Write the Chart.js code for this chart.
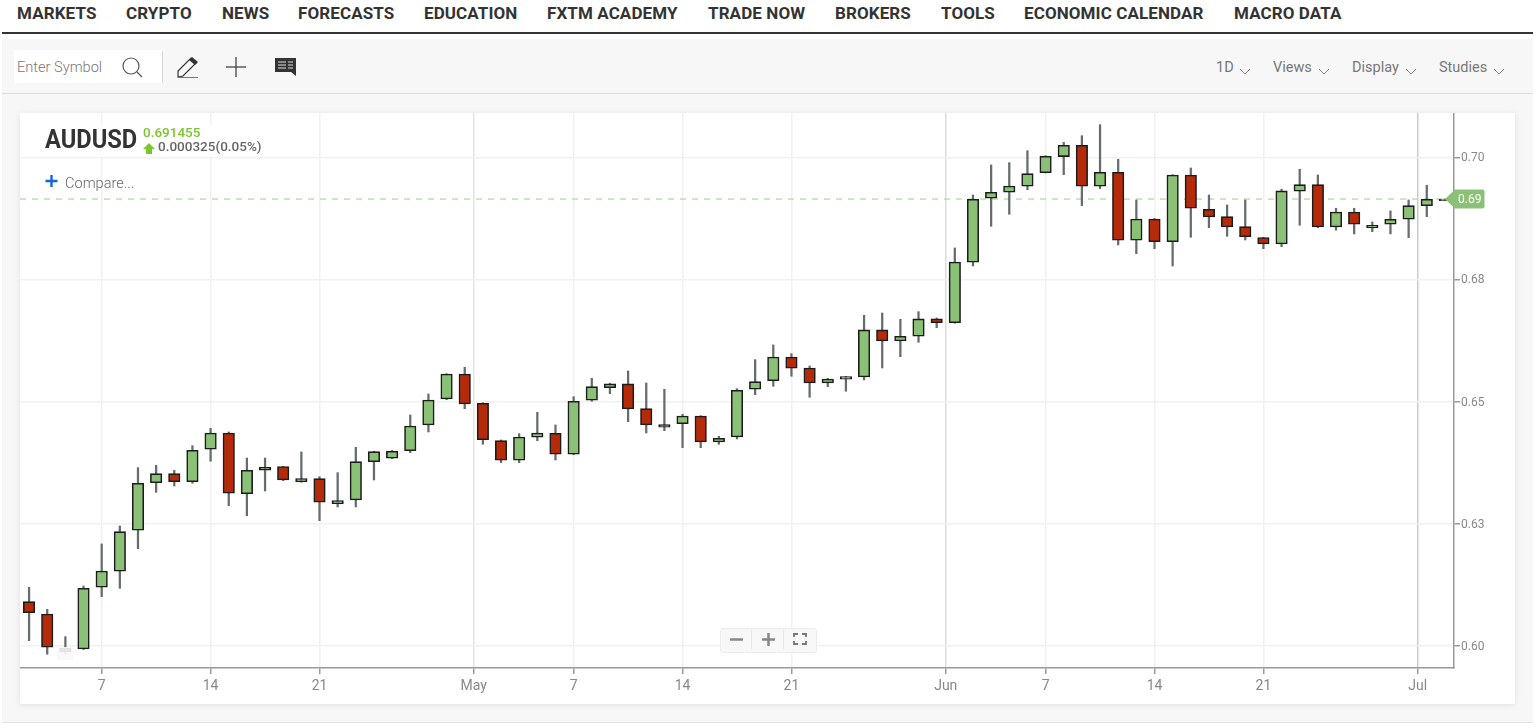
<!DOCTYPE html>
<html>
<head>
<meta charset="utf-8">
<title>AUDUSD</title>
<script src="https://cdn.jsdelivr.net/npm/chart.js@4"></script>
<style>
html,body{margin:0;padding:0;width:1537px;height:728px;overflow:hidden;background:#fff;font-family:Roboto,sans-serif;}
.abs{position:absolute;white-space:nowrap;}
.nav{top:4px;font-size:17px;font-weight:700;color:#333;line-height:19px;letter-spacing:.1px;}
.menu{top:59px;font-size:14.5px;color:#777;line-height:17px;}
svg{position:absolute;overflow:visible;}
</style>
</head>
<body>

<!-- top navigation -->
<div class="abs nav" style="left:17px">MARKETS</div>
<div class="abs nav" style="left:126px">CRYPTO</div>
<div class="abs nav" style="left:222px">NEWS</div>
<div class="abs nav" style="left:298px">FORECASTS</div>
<div class="abs nav" style="left:424px">EDUCATION</div>
<div class="abs nav" style="left:547px">FXTM ACADEMY</div>
<div class="abs nav" style="left:708px">TRADE NOW</div>
<div class="abs nav" style="left:835px">BROKERS</div>
<div class="abs nav" style="left:941px">TOOLS</div>
<div class="abs nav" style="left:1024px">ECONOMIC CALENDAR</div>
<div class="abs nav" style="left:1234px">MACRO DATA</div>
<div class="abs" style="left:2px;top:32px;width:1531px;height:2px;background:#333"></div>

<!-- grey panel and toolbar -->
<div class="abs" style="left:2px;top:39px;width:1531px;height:683px;background:#f7f7f7;border-bottom:1px solid #e2e2e2"></div>
<div class="abs" style="left:2px;top:93px;width:1531px;height:1px;background:#dcdcdc"></div>
<div class="abs" style="left:14px;top:50px;width:148px;height:33px;background:#fff"></div>
<div class="abs" style="left:162px;top:51px;width:1px;height:32px;background:#d8d8d8"></div>
<div class="abs" style="left:17px;top:59px;font-size:14.6px;font-weight:300;color:#777;line-height:17px">Enter Symbol</div>

<svg style="left:0;top:0" width="1537" height="100">
  <!-- search -->
  <circle cx="131" cy="66" r="8" fill="none" stroke="#555" stroke-width="1.2"/>
  <line x1="137" y1="72" x2="142" y2="77" stroke="#555" stroke-width="1.2"/>
  <!-- pencil -->
  <path d="M178 77 L178 71 L191 58 L196 63 L183 76 Z" fill="none" stroke="#333" stroke-width="1.2"/>
  <path d="M189 60 L192 57 L198 62 L195 65 Z" fill="#333"/>
  <line x1="178" y1="77.5" x2="198" y2="77.5" stroke="#777" stroke-width="1"/>
  <!-- crosshair -->
  <line x1="226" y1="67" x2="246" y2="67" stroke="#444" stroke-width="1.3"/>
  <line x1="236" y1="57" x2="236" y2="77" stroke="#444" stroke-width="1.3"/>
  <!-- comment -->
  <path d="M275 58 H296 V76 L291 72 H275 Z" fill="#333"/>
  <path d="M278 62 H286 M288 62 H293 M278 65 H286 M288 65 H293 M278 68 H286 M288 68 H293" stroke="#ddd" stroke-width="1"/>
  <!-- menu chevrons -->
  <path d="M1240 69 L1245 74 L1250 69 M1319 69 L1324 74 L1329 69 M1406 69 L1411 74 L1416 69 M1494 69 L1499 74 L1504 69" fill="none" stroke="#888" stroke-width="1"/>
</svg>

<div class="abs menu" style="left:1216px">1D</div>
<div class="abs menu" style="left:1273px">Views</div>
<div class="abs menu" style="left:1352px">Display</div>
<div class="abs menu" style="left:1439px">Studies</div>

<!-- chart card -->
<div class="abs" style="left:20px;top:113px;width:1495px;height:591px;background:#fff;box-shadow:0 1px 6px rgba(0,0,0,.10)">
  <canvas id="candleChart" width="1495" height="591" style="display:block"></canvas>
</div>

<!-- header over the chart -->
<div class="abs" style="left:40px;top:125px;width:172px;height:32px;background:rgba(255,255,255,.9)"></div>
<div class="abs" style="left:45px;top:124px;font-size:26px;font-weight:700;color:#333;line-height:30px;transform:scaleX(.91);transform-origin:left center">AUDUSD</div>
<div class="abs" style="left:143px;top:124px;font-size:13.5px;font-weight:500;color:#7cc52f;line-height:16px">0.691455</div>
<div class="abs" style="left:158px;top:138px;font-size:13.5px;font-weight:500;color:#666;line-height:16px">0.000325(0.05%)</div>
<svg style="left:0;top:0" width="300" height="200">
  <path d="M149 143 L155 149 H152 V154 H146 V149 H143 Z" fill="#7cc52f"/>
  <path d="M45.500 181 H57.500 M51.500 175 V187" stroke="#1565d8" stroke-width="2.400" fill="none"/>
</svg>
<div class="abs" style="left:65px;top:175px;font-size:14.6px;font-weight:300;color:#666;line-height:17px">Compare...</div>

<!-- zoom control and faded marker -->
<div class="abs" style="left:57px;top:647px;width:16px;height:13px;background:rgba(248,248,248,.9)"></div>
<div class="abs" style="left:720px;top:628px;width:95px;height:23px;background:rgba(248,248,248,.95);border:1px solid #ececec;border-radius:3px"></div>
<svg style="left:0;top:0" width="900" height="700">
  <line x1="751.500" y1="630" x2="751.500" y2="649" stroke="#e6e6e6"/>
  <line x1="783.500" y1="630" x2="783.500" y2="649" stroke="#e6e6e6"/>
  <path d="M730 639.500 H743" stroke="#888" stroke-width="2.500"/>
  <path d="M762 639.500 H775 M768.500 633 V646" stroke="#888" stroke-width="2.500"/>
  <path d="M794 637 V634 H798 M802 634 H806 V637 M806 641 V644 H802 M798 644 H794 V641" fill="none" stroke="#777" stroke-width="1.800"/>
</svg>

<script>
/*
=================================
CHART DATA
=================================
*/

const opens = [
    0.60907,0.60655,0.59953,0.59939,0.61202,0.61529,0.62368,0.63342,0.63526,0.63362,
    0.64025,0.64359,0.63117,0.63596,0.63673,0.63362,0.63424,0.62912,0.62988,0.63772,
    0.63841,0.63997,0.64523,0.65055,0.65566,0.64967,0.64201,0.63800,0.64271,0.64353,
    0.63923,0.65028,0.65286,0.65362,0.64856,0.64476,0.64549,0.64707,0.64175,0.64277,
    0.65253,0.65429,0.65914,0.65689,0.65382,0.65458,0.65505,0.66467,0.66241,0.66338,
    0.66692,0.66616,0.67852,0.69161,0.69284,0.69407,0.69685,0.70013,0.70246,0.69407,
    0.69693,0.68302,0.68738,0.68273,0.69638,0.68936,0.68785,0.68580,0.68359,0.68226,
    0.69305,0.69440,0.68574,0.68881,0.68554,0.68629,0.68732,0.69010,0.69113
];

const closes = [
    0.60682,0.59974,0.59884,0.61181,0.61535,0.62339,0.63330,0.63526,0.63362,0.64005,
    0.64359,0.63125,0.63596,0.63657,0.63397,0.63424,0.62941,0.62974,0.63772,0.63976,
    0.63985,0.64502,0.65034,0.65566,0.64952,0.64222,0.63800,0.64277,0.64359,0.63923,
    0.65007,0.65306,0.65362,0.64850,0.64523,0.64529,0.64707,0.64175,0.64250,0.65233,
    0.65409,0.65914,0.65683,0.65382,0.65464,0.65515,0.66467,0.66241,0.66338,0.66692,
    0.66616,0.67858,0.69141,0.69284,0.69413,0.69665,0.70021,0.70246,0.69407,0.69693,
    0.68302,0.68738,0.68273,0.69638,0.68957,0.68779,0.68574,0.68376,0.68226,0.69311,
    0.69440,0.68574,0.68881,0.68629,0.68609,0.68732,0.69010,0.69141,0.691455
];

const highs = [
    0.61202,0.60751,0.60191,0.61228,0.62088,0.62456,0.63649,0.63698,0.63596,0.64099,
    0.64455,0.64379,0.63847,0.63847,0.63677,0.63970,0.63465,0.63547,0.64066,0.63985,
    0.64005,0.64727,0.65157,0.65572,0.65703,0.64979,0.64216,0.64345,0.64782,0.64523,
    0.65102,0.65478,0.65376,0.65628,0.65382,0.65253,0.64742,0.64713,0.64291,0.65265,
    0.65859,0.66160,0.65982,0.65730,0.65478,0.65519,0.66767,0.66814,0.66685,0.66841,
    0.66712,0.68144,0.69229,0.69843,0.69890,0.70135,0.70033,0.70307,0.70442,0.70667,
    0.69959,0.69127,0.68748,0.69644,0.69781,0.69229,0.69024,0.69127,0.68363,0.69346,
    0.69755,0.69638,0.68957,0.68957,0.68676,0.68902,0.69127,0.69427,0.69146
];

const lows = [
    0.60109,0.59831,0.59837,0.59929,0.61009,0.61181,0.61991,0.63145,0.63274,0.63330,
    0.63780,0.62871,0.62667,0.63172,0.63383,0.63350,0.62565,0.62845,0.62845,0.63397,
    0.63833,0.63956,0.64379,0.65040,0.64856,0.64128,0.63751,0.63751,0.64201,0.63806,
    0.63913,0.65007,0.65163,0.64590,0.64359,0.64406,0.64058,0.64058,0.64128,0.64236,
    0.65143,0.65314,0.65519,0.65089,0.65306,0.65212,0.65443,0.65689,0.65920,0.66215,
    0.66514,0.66604,0.67776,0.68588,0.68834,0.69337,0.69679,0.69644,0.69010,0.69358,
    0.68206,0.68028,0.68130,0.67776,0.68363,0.68560,0.68384,0.68308,0.68130,0.68171,
    0.68609,0.68560,0.68507,0.68431,0.68478,0.68431,0.68355,0.68785,0.69110
];

const lastPrice = 0.691455;
const lastPriceLabel = "0.69";

// candle slots of the x ticks, weekend gaps fall between two candles
const xTickSlots = [4,10,16,24.5,30,36,42,50.5,56,62,68,76.5];
const xTickLabels = ["7","14","21","May","7","14","21","Jun","7","14","21","Jul"];

const yTickValues = [0.70,0.675,0.65,0.625,0.60];
const yTickLabels = ["0.70","0.68","0.65","0.63","0.60"];

/*
=================================
COLOURS
=================================
*/

const upColor = "#8bc176";
const downColor = "#b52a08";
const edgeColor = "#1c1c1c";
const wickColor = "#666c6e";
const gridColor = "#f1f1f1";
const axisColor = "#999999";
const tickTextColor = "#888888";

const monthGridColors = {
    May:"#e4e4e4",
    Jun:"#dcdcdc",
    Jul:"#cccccc"
};

/*
=================================
LAST PRICE TAG
=================================
*/

const lastPriceTag = {

    id:"lastPriceTag",

    afterDraw(chart){

        const ctx = chart.ctx;
        const y = chart.scales.y.getPixelForValue(lastPrice);
        const x = chart.scales.x.right;

        ctx.save();
        ctx.fillStyle = upColor;
        ctx.beginPath();
        ctx.moveTo(x - 9, y);
        ctx.lineTo(x + 1, y - 9.5);
        ctx.lineTo(x + 28.5, y - 9.5);
        ctx.quadraticCurveTo(x + 30.5, y - 9.5, x + 30.5, y - 7.5);
        ctx.lineTo(x + 30.5, y + 7.5);
        ctx.quadraticCurveTo(x + 30.5, y + 9.5, x + 28.5, y + 9.5);
        ctx.lineTo(x + 1, y + 9.5);
        ctx.closePath();
        ctx.fill();

        ctx.fillStyle = "#ffffff";
        ctx.font = "12px Roboto";
        ctx.textAlign = "left";
        ctx.textBaseline = "middle";
        ctx.fillText(lastPriceLabel, x + 4, y + 0.5);
        ctx.restore();
    }
};

/*
=================================
BUILD CHART
=================================
*/

const wickPoints = highs.map((h,i) => ({x:i, y:[lows[i], h]}));
const bodyPoints = opens.map((o,i) => ({x:i, y:[o, closes[i]]}));

new Chart(document.getElementById("candleChart"), {

    type:"bar",

    data:{
        datasets:[
            {
                label:"Last price",
                type:"line",
                data:[
                    {x:-0.5, y:lastPrice},
                    {x:78.5, y:lastPrice}
                ],
                borderColor:"#a8dc98",
                borderWidth:1.2,
                borderDash:[6,6],
                pointRadius:0,
                order:3
            },
            {
                label:"Wick",
                data:wickPoints,
                backgroundColor:wickColor,
                borderWidth:0,
                barThickness:1.6,
                grouped:false,
                order:2
            },
            {
                label:"Body",
                data:bodyPoints,
                backgroundColor:ctx => closes[ctx.dataIndex] >= opens[ctx.dataIndex] ? upColor : downColor,
                borderColor:edgeColor,
                borderWidth:1.6,
                borderSkipped:false,
                barThickness:11.5,
                grouped:false,
                order:1
            }
        ]
    },

    options:{

        responsive:false,
        animation:false,
        devicePixelRatio:1,

        layout:{padding:0},

        plugins:{
            legend:{display:false},
            tooltip:{enabled:false}
        },

        scales:{

            x:{
                type:"linear",
                min:-0.5,
                max:78.5,
                offset:false,
                border:{color:axisColor, width:1.5},
                grid:{
                    offset:false,
                    color:ctx => monthGridColors[xTickLabels[ctx.index]] || gridColor,
                    lineWidth:1.5,
                    tickColor:axisColor,
                    tickLength:6
                },
                afterBuildTicks(scale){
                    scale.ticks = xTickSlots.map(v => ({value:v}));
                },
                afterFit(scale){
                    scale.height = 36;
                    scale.paddingLeft = 0;
                    scale.paddingRight = 0;
                },
                ticks:{
                    autoSkip:false,
                    maxRotation:0,
                    padding:4,
                    color:tickTextColor,
                    font:{family:"Roboto", size:14},
                    callback:(v,i) => xTickLabels[i]
                }
            },

            y:{
                type:"linear",
                position:"right",
                min:0.5955,
                max:0.70906,
                border:{color:axisColor, width:1.5},
                grid:{
                    color:gridColor,
                    lineWidth:1.5,
                    tickColor:axisColor,
                    tickLength:6
                },
                afterBuildTicks(scale){
                    scale.ticks = yTickValues.map(v => ({value:v}));
                },
                afterFit(scale){
                    scale.width = 61;
                    scale.paddingTop = 0;
                    scale.paddingBottom = 0;
                },
                ticks:{
                    autoSkip:false,
                    padding:1,
                    labelOffset:1,
                    color:tickTextColor,
                    font:{family:"Roboto", size:12},
                    callback:(v,i) => yTickLabels[i]
                }
            }
        }
    },

    plugins:[lastPriceTag]
});
</script>
</body>
</html>
